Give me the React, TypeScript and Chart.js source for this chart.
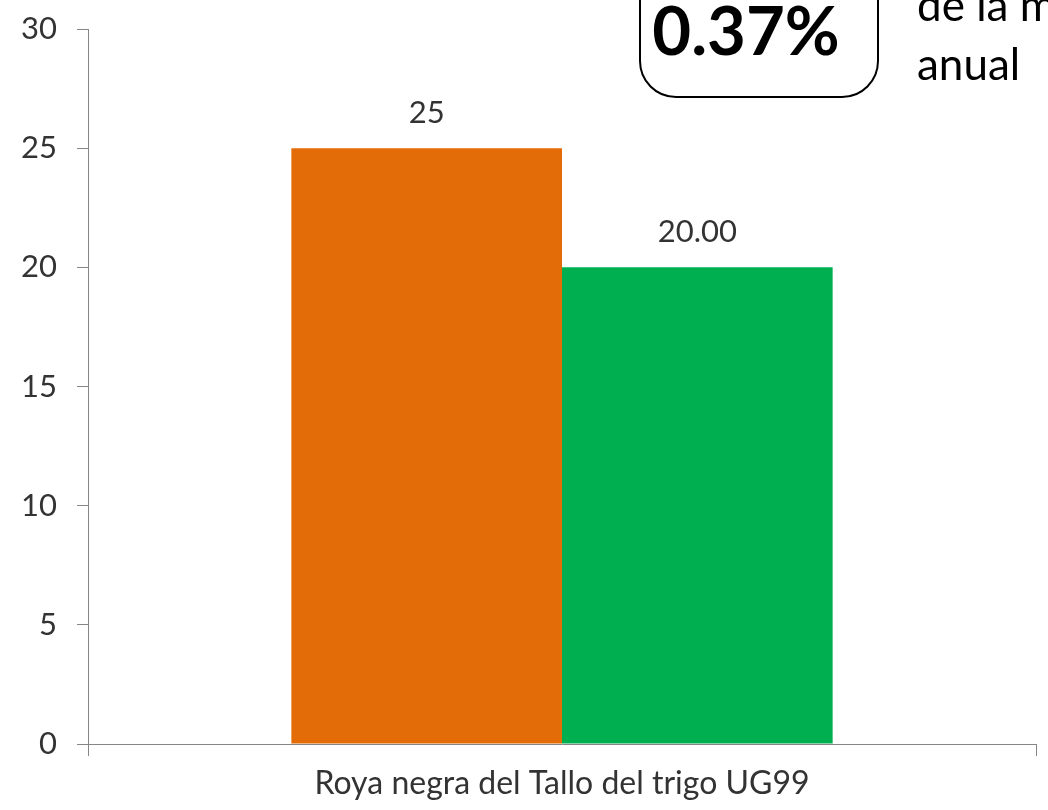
import React, { useEffect, useRef } from 'react';
import { Chart, registerables } from 'chart.js';

Chart.register(...registerables);

const categories = ['Roya negra del Tallo del trigo UG99'];
const seriesOrange = [25];
const seriesGreen = [20];
const labelsOrange = ['25'];
const labelsGreen = ['20.00'];
const yMin = 0;
const yMax = 30;
const yStep = 5;
const boxText = '0.37%';
const sideLines = ['de la m', 'anual'];

const FONT = 'Lato, "Open Sans", sans-serif';
const TEXT = '#333333';

const valueLabelPlugin = {
  id: 'valueLabels',
  afterDatasetsDraw(chart: any) {
    const ctx = chart.ctx;
    const sets = [labelsOrange, labelsGreen];
    ctx.save();
    ctx.font = `31px ${FONT}`;
    ctx.fillStyle = TEXT;
    ctx.textAlign = 'center';
    ctx.textBaseline = 'alphabetic';
    chart.data.datasets.forEach((_: any, di: number) => {
      const meta = chart.getDatasetMeta(di);
      meta.data.forEach((el: any, i: number) => {
        ctx.fillText(sets[di][i], el.x, el.y - 25);
      });
    });
    ctx.restore();
  },
};

const annotationPlugin = {
  id: 'calloutBox',
  afterDraw(chart: any) {
    const ctx = chart.ctx;
    ctx.save();
    ctx.strokeStyle = '#000000';
    ctx.lineWidth = 2;
    ctx.beginPath();
    ctx.roundRect(640, -60, 238, 157, 36);
    ctx.stroke();
    ctx.fillStyle = '#000000';
    ctx.font = `bold 67px ${FONT}`;
    ctx.textAlign = 'center';
    ctx.textBaseline = 'alphabetic';
    ctx.fillText(boxText, 746, 55);
    ctx.font = `44px ${FONT}`;
    ctx.textAlign = 'left';
    ctx.fillText(sideLines[0], 917, 21);
    ctx.fillText(sideLines[1], 917, 80);
    ctx.restore();
  },
};

export default function App() {
  const ref = useRef<HTMLCanvasElement | null>(null);
  useEffect(() => {
    document.body.style.margin = '0';
    const canvas = ref.current;
    if (!canvas) return;
    const chart = new Chart(canvas, {
      type: 'bar',
      data: {
        labels: categories,
        datasets: [
          {
            label: 'A',
            data: seriesOrange,
            backgroundColor: '#E36C09',
            borderWidth: 0,
          },
          {
            label: 'B',
            data: seriesGreen,
            backgroundColor: '#00B050',
            borderWidth: 0,
          },
        ],
      },
      options: {
        responsive: false,
        animation: false,
        devicePixelRatio: 1,
        layout: { padding: { top: 29, right: 12, left: 0, bottom: 0 } },
        datasets: { bar: { categoryPercentage: 0.571, barPercentage: 1 } },
        plugins: {
          legend: { display: false },
          tooltip: { enabled: false },
          title: { display: false },
        },
        scales: {
          x: {
            offset: true,
            grid: {
              display: true,
              drawOnChartArea: false,
              drawTicks: true,
              tickLength: 12,
              tickColor: '#868686',
              offset: true,
            },
            border: { display: true, color: '#868686', width: 1 },
            ticks: {
              color: TEXT,
              font: { family: FONT, size: 32 },
              padding: 8,
            },
            afterFit(scale: any) {
              scale.height = 66;
              scale.paddingLeft = 0;
              scale.paddingRight = 0;
            },
          },
          y: {
            min: yMin,
            max: yMax,
            grid: {
              display: true,
              drawOnChartArea: false,
              drawTicks: true,
              tickLength: 11,
              tickColor: '#868686',
            },
            border: { display: true, color: '#868686', width: 1 },
            ticks: {
              stepSize: yStep,
              color: TEXT,
              font: { family: FONT, size: 31 },
              padding: 20,
            },
            afterFit(scale: any) {
              scale.width = 88;
              scale.paddingTop = 0;
              scale.paddingBottom = 0;
            },
          },
        },
      },
      plugins: [valueLabelPlugin, annotationPlugin],
    });
    return () => chart.destroy();
  }, []);
  return (
    <div style={{ position: 'fixed', left: 0, top: 0, width: 1048, height: 810, background: '#ffffff' }}>
      <canvas ref={ref} width={1048} height={810} style={{ display: 'block', width: 1048, height: 810 }} />
    </div>
  );
}
